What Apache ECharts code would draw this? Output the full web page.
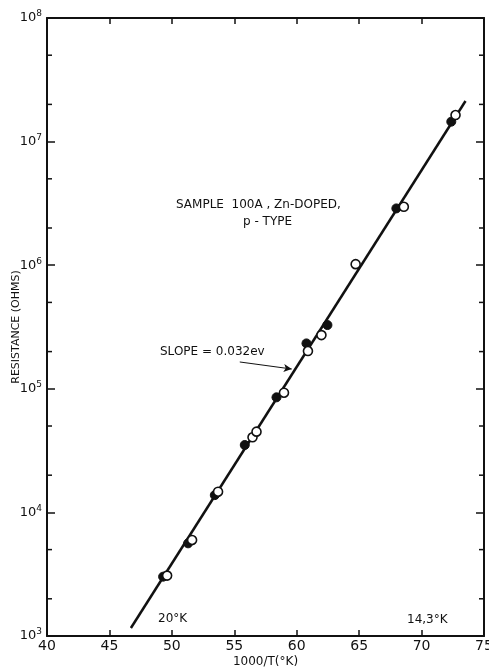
<!DOCTYPE html>
<html>
<head>
<meta charset="utf-8">
<script src="https://cdn.jsdelivr.net/npm/echarts@6/dist/echarts.min.js"></script>
<style>
html,body{margin:0;padding:0;background:#fff;}
#c{width:489px;height:667px;}
</style>
</head>
<body>
<div id="c"></div>
<script>
// Data
var filledX = [49.30, 51.30, 53.44, 55.84, 58.38, 60.78, 62.46, 67.98, 72.38];
var filledY = [3020, 5620, 13800, 35100, 85300, 233000, 328000, 2880000, 14500000];
var openX = [49.62, 51.62, 53.70, 56.46, 56.78, 58.98, 60.90, 61.98, 64.72, 68.58, 72.72];
var openY = [3080, 5980, 14700, 40500, 45000, 93000, 202000, 272000, 1020000, 2970000, 16400000];
var fitX = [46.72, 73.52];
var fitY = [1160, 21300000];
var arrowFrom = [55.44, 164800];
var arrowTo = [59.6, 144600];
var xTicks = [40, 45, 50, 55, 60, 65, 70, 75];
var yMinorTicks = [2000, 5000, 20000, 50000, 200000, 500000, 2000000, 5000000, 20000000, 50000000];

function pairs(xs, ys){ return xs.map(function(x,i){ return [x, ys[i]]; }); }

var font = 'DejaVu Sans, Liberation Sans, sans-serif';
var ink = '#111';

var chart = echarts.init(document.getElementById('c'), null, {renderer:'canvas'});
var axisCommon = {
  min: 40, max: 75, interval: 5, type: 'value',
  axisLine: {show:true, onZero:false, lineStyle:{color:ink, width:2}},
  axisTick: {show:true, inside:true, length:6, lineStyle:{color:ink, width:1.5}},
  splitLine: {show:false}
};
var yCommon = {
  type:'log', logBase:10, min:1000, max:100000000,
  axisLine:{show:true, lineStyle:{color:ink, width:2}},
  axisTick:{show:true, inside:true, length:8, lineStyle:{color:ink, width:1.5}},
  splitLine:{show:false}, minorTick:{show:false}
};
chart.setOption({
  animation:false,
  backgroundColor:'#fff',
  grid:{left:47, right:5, top:18, bottom:31, containLabel:false, outerBoundsMode:'none'},
  xAxis:[
    Object.assign({}, axisCommon, {
      position:'bottom',
      name:'1000/T(°K)', nameLocation:'middle', nameGap:20, nameMoveOverlap:false,
      nameTextStyle:{fontFamily:font, fontSize:12, color:ink},
      axisLabel:{show:true, fontFamily:font, fontSize:14, color:ink, margin:3,
        formatter:function(v){ return xTicks.indexOf(v) >= 0 ? String(v) : ''; }}
    }),
    Object.assign({}, axisCommon, {
      position:'top', axisLabel:{show:false}
    })
  ],
  yAxis:[
    Object.assign({}, yCommon, {
      position:'left',
      name:'RESISTANCE (OHMS)', nameLocation:'middle', nameGap:25, nameRotate:90, nameMoveOverlap:false,
      nameTextStyle:{fontFamily:font, fontSize:11, color:ink},
      axisLabel:{show:true, margin:5, color:ink,
        formatter:function(v){ var e = Math.round(Math.log10(v)); return '{b|10}{s|' + e + '}'; },
        rich:{
          b:{fontFamily:font, fontSize:13, color:ink},
          s:{fontFamily:font, fontSize:9, color:ink, verticalAlign:'bottom', padding:[0,0,8,0]}
        }
      }
    }),
    Object.assign({}, yCommon, {position:'right', axisLabel:{show:false}})
  ],
  series:[
    {
      type:'custom', xAxisIndex:0, yAxisIndex:0,
      data: yMinorTicks.map(function(v){ return [40, v]; }),
      renderItem:function(params, api){
        var v = api.value(1);
        var l = api.coord([40, v]);
        var r = api.coord([75, v]);
        return {type:'group', children:[
          {type:'line', shape:{x1:l[0], y1:l[1], x2:l[0]+5, y2:l[1]}, style:{stroke:ink, lineWidth:1.5}},
          {type:'line', shape:{x1:r[0], y1:r[1], x2:r[0]-5, y2:r[1]}, style:{stroke:ink, lineWidth:1.5}}
        ]};
      },
      silent:true, z:1
    },
    {
      type:'line', data:pairs(fitX, fitY), showSymbol:false, symbol:'none',
      lineStyle:{color:ink, width:2.5}, z:2, silent:true,
      markLine:{
        silent:true, symbol:['none','arrow'], symbolSize:[6,8],
        lineStyle:{color:ink, width:1, type:'solid'},
        label:{show:false},
        data:[[{coord:arrowFrom}, {coord:arrowTo}]]
      }
    },
    {
      type:'scatter', data:pairs(filledX, filledY), symbol:'circle', symbolSize:9,
      itemStyle:{color:ink, borderColor:ink, borderWidth:1, opacity:1}, z:3
    },
    {
      type:'scatter', data:pairs(openX, openY), symbol:'circle', symbolSize:9,
      itemStyle:{color:'#fff', borderColor:ink, borderWidth:1.6, opacity:1}, z:4
    }
  ],
  graphic:[
    {type:'text', left:176, top:199, style:{text:'SAMPLE  100A , Zn-DOPED,', font:'12px ' + font, fill:ink}},
    {type:'text', left:243, top:216, style:{text:'p - TYPE', font:'12px ' + font, fill:ink}},
    {type:'text', left:160, top:346, style:{text:'SLOPE = 0.032ev', font:'12px ' + font, fill:ink}},
    {type:'text', left:158, top:613, style:{text:'20°K', font:'12px ' + font, fill:ink}},
    {type:'text', left:407, top:614, style:{text:'14,3°K', font:'12px ' + font, fill:ink}}
  ]
});
</script>
</body>
</html>
